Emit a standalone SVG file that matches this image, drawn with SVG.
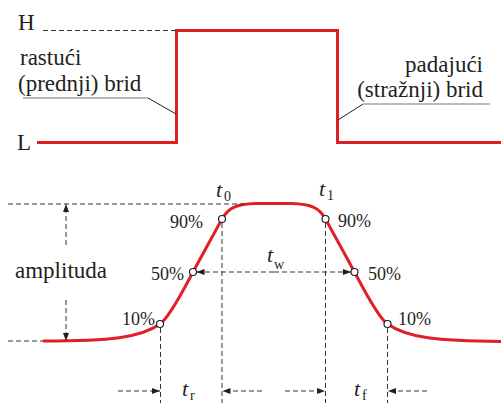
<svg xmlns="http://www.w3.org/2000/svg" width="501" height="403" viewBox="0 0 501 403">
<style>
.txt{font-family:"Liberation Serif","Times New Roman",serif;fill:#231f20}
.big{font-size:23px}
.pct{font-size:18px}
.it{font-style:italic;font-size:22px}
.sub{font-size:14px}
.red{fill:none;stroke:#e31e24;stroke-width:3}
.dash{fill:none;stroke:#333;stroke-width:1;stroke-dasharray:5 3}
.thin{fill:none;stroke:#231f20;stroke-width:1}
.pt{fill:#fff;stroke:#231f20;stroke-width:1.2}
</style>
<defs>
<marker id="ah" viewBox="0 0 8 6" refX="8" refY="3" markerWidth="8" markerHeight="6" markerUnits="userSpaceOnUse" orient="auto">
<path d="M0,0 L8,3 L0,6 z" fill="#231f20"/>
</marker>
</defs>
<g id="digital-pulse">
<path class="red" d="M37,142.5 H176.5 V30.5 H337.5 V142.5 H501"/>
</g>
<g id="labels-top">
<text class="txt big" x="18" y="30">H</text>
<text class="txt big" x="17" y="150">L</text>
<text class="txt big" x="20" y="65">rastući</text>
<text class="txt big" x="18" y="91">(prednji) brid</text>
<text class="txt big" x="483" y="72" text-anchor="end">padajući</text>
<text class="txt big" x="483" y="97" text-anchor="end">(stražnji) brid</text>
</g>
<g id="analog-pulse">
<path class="red" d="M43,341 C110,341 140,338 160,324 C170,317 186,285 193,272 C200,259 216,230 222,219 C228,208 236,204 256,203.5 L291.5,203.5 C311.5,204 319.5,208 325.5,219 C331.5,230 347.5,259 354.5,272 C361.5,285 377.5,317 387.5,324 C407.5,338 437.5,341 501,341.5"/>
</g>
<g id="connectors">
<path class="dash" d="M43,30.5 H176"/>
<path d="M23,98 H148" stroke="#777" stroke-width="1"/>
<path class="thin" d="M148,98 L176,114"/>
<path d="M363,104 H490" stroke="#777" stroke-width="1"/>
<path class="thin" d="M363,104 L338,120"/>
<path class="dash" d="M8,204 H244"/>
<path class="dash" d="M8,341 H43"/>
<path class="dash" d="M66,245 V204" marker-end="url(#ah)"/>
<path class="dash" d="M66,300 V341" marker-end="url(#ah)"/>
<path class="dash" d="M160.5,328 V403"/>
<path class="dash" d="M222,223 V403"/>
<path class="dash" d="M325.5,223 V403"/>
<path class="dash" d="M387.5,328 V403"/>
<path class="dash" d="M274,272 H196.5" marker-end="url(#ah)"/>
<path class="dash" d="M274,272 H351" marker-end="url(#ah)"/>
<path class="dash" d="M118,391 H160" marker-end="url(#ah)"/>
<path class="dash" d="M262,391 H222.5" marker-end="url(#ah)"/>
<path class="dash" d="M285,391 H325" marker-end="url(#ah)"/>
<path class="dash" d="M427,391 H388" marker-end="url(#ah)"/>
</g>
<g id="points">
<circle class="pt" cx="160" cy="324" r="3.5"/>
<circle class="pt" cx="193" cy="272" r="3.5"/>
<circle class="pt" cx="222" cy="219" r="3.5"/>
<circle class="pt" cx="325.5" cy="219" r="3.5"/>
<circle class="pt" cx="354.5" cy="272" r="3.5"/>
<circle class="pt" cx="387.5" cy="324" r="3.5"/>
</g>
<g id="labels-bottom">
<text class="txt big" x="15" y="278">amplituda</text>
<text class="txt pct" x="203" y="228" text-anchor="end">90%</text>
<text class="txt pct" x="184" y="280" text-anchor="end">50%</text>
<text class="txt pct" x="155" y="325" text-anchor="end">10%</text>
<text class="txt pct" x="338" y="227">90%</text>
<text class="txt pct" x="368" y="280">50%</text>
<text class="txt pct" x="398" y="325">10%</text>
<text class="txt it" x="216" y="197">t</text><text class="txt sub" x="224" y="201">0</text>
<text class="txt it" x="319" y="196">t</text><text class="txt sub" x="327" y="200">1</text>
<text class="txt it" x="267" y="262">t</text><text class="txt sub" x="274" y="269">w</text>
<text class="txt it" x="182" y="396">t</text><text class="txt sub" x="190" y="400">r</text>
<text class="txt it" x="354" y="396">t</text><text class="txt sub" x="362" y="400">f</text>
</g>
</svg>
